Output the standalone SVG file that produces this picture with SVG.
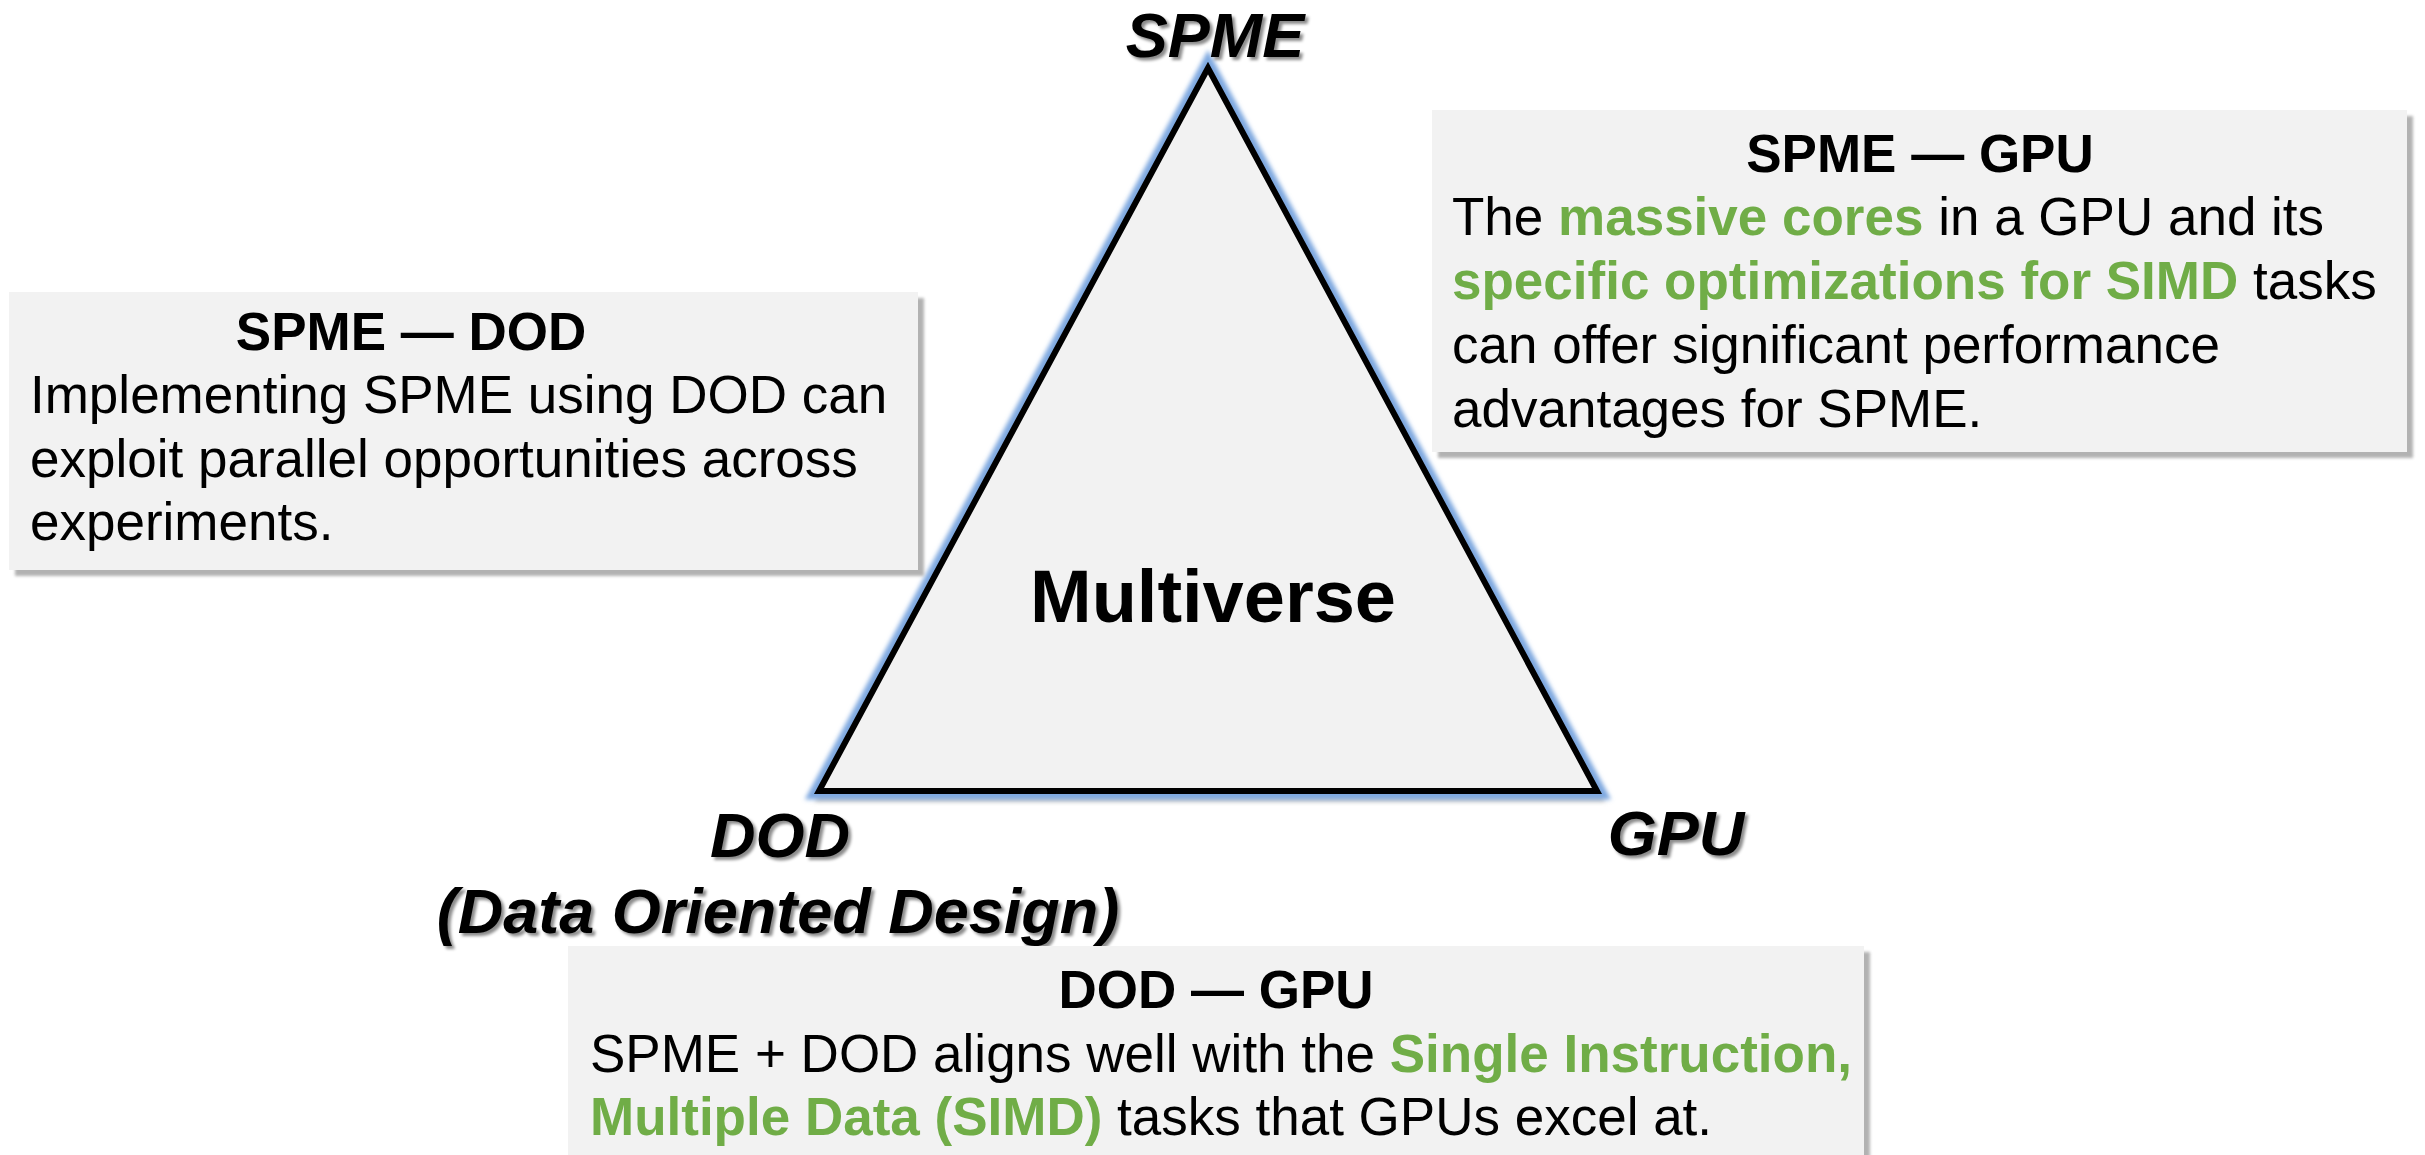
<svg xmlns="http://www.w3.org/2000/svg" width="2425" height="1155" viewBox="0 0 2425 1155">
  <defs>
    <style>
      text { font-family: "Liberation Sans", Arial, sans-serif; fill: #000; }
      .vertex { font-size: 63px; font-weight: bold; font-style: italic; text-anchor: middle; filter: url(#textShadow); }
      .center { font-size: 74px; font-weight: bold; text-anchor: middle; }
      .title { font-size: 53px; font-weight: bold; text-anchor: middle; }
      .body { font-size: 53px; }
      .hl { fill: #70ad47; font-weight: bold; }
      .card { fill: #f2f2f2; }
      .card-shadow { fill: #b2b2b2; filter: url(#soft); }
    </style>
    <filter id="textShadow" x="-10%" y="-20%" width="130%" height="150%">
      <feDropShadow dx="3" dy="3" stdDeviation="1.6" flood-color="#000" flood-opacity="0.45"/>
    </filter>
    <filter id="soft" x="-5%" y="-5%" width="110%" height="110%">
      <feGaussianBlur stdDeviation="1.5"/>
    </filter>
    <filter id="glow" x="-10%" y="-10%" width="120%" height="120%">
      <feGaussianBlur stdDeviation="2"/>
    </filter>
  </defs>

  <rect width="2425" height="1155" fill="#fff"/>

  <!-- central triangle with its blue outer glow -->
  <g id="multiverse">
    <polygon points="1208,68 819,791 1597,791" fill="none" stroke="#c8c8c8" stroke-width="8" transform="translate(2,7)" filter="url(#glow)"/>
    <polygon points="1208,68 819,791 1597,791" fill="none" stroke="#7fa9e0" stroke-width="17" stroke-linejoin="miter" filter="url(#glow)"/>
    <polygon points="1208,68 819,791 1597,791" fill="#f2f2f2" stroke="#000" stroke-width="6" stroke-linejoin="miter"/>
    <text class="center" x="1213" y="622">Multiverse</text>
  </g>

  <!-- vertex labels -->
  <g id="vertex-spme">
    <text class="vertex" x="1215" y="57">SPME</text>
  </g>
  <g id="vertex-dod">
    <text class="vertex" x="780" y="857">DOD</text>
    <text class="vertex" x="778" y="933">(Data Oriented Design)</text>
  </g>
  <g id="vertex-gpu">
    <text class="vertex" x="1676" y="855">GPU</text>
  </g>

  <!-- edge descriptions -->
  <g id="card-spme-gpu">
    <rect class="card-shadow" x="1438" y="116" width="975" height="342"/>
    <rect class="card" x="1432" y="110" width="975" height="342"/>
    <text class="title" x="1920" y="172">SPME — GPU</text>
    <text class="body" x="1452" y="235">The <tspan class="hl">massive cores</tspan> in a GPU and its</text>
    <text class="body" x="1452" y="299"><tspan class="hl">specific optimizations for SIMD</tspan> tasks</text>
    <text class="body" x="1452" y="363">can offer significant performance</text>
    <text class="body" x="1452" y="427">advantages for SPME.</text>
  </g>

  <g id="card-spme-dod">
    <rect class="card-shadow" x="15" y="298" width="909" height="278"/>
    <rect class="card" x="9" y="292" width="909" height="278"/>
    <text class="title" x="411" y="350">SPME — DOD</text>
    <text class="body" x="30" y="413">Implementing SPME using DOD can</text>
    <text class="body" x="30" y="477">exploit parallel opportunities across</text>
    <text class="body" x="30" y="540">experiments.</text>
  </g>

  <g id="card-dod-gpu">
    <rect class="card-shadow" x="574" y="952" width="1296" height="230"/>
    <rect class="card" x="568" y="946" width="1296" height="230"/>
    <text class="title" x="1216" y="1008">DOD — GPU</text>
    <text class="body" x="590" y="1072">SPME + DOD aligns well with the <tspan class="hl">Single Instruction,</tspan></text>
    <text class="body" x="590" y="1135"><tspan class="hl">Multiple Data (SIMD)</tspan> tasks that GPUs excel at.</text>
  </g>

  <g id="connectors"/>
</svg>
